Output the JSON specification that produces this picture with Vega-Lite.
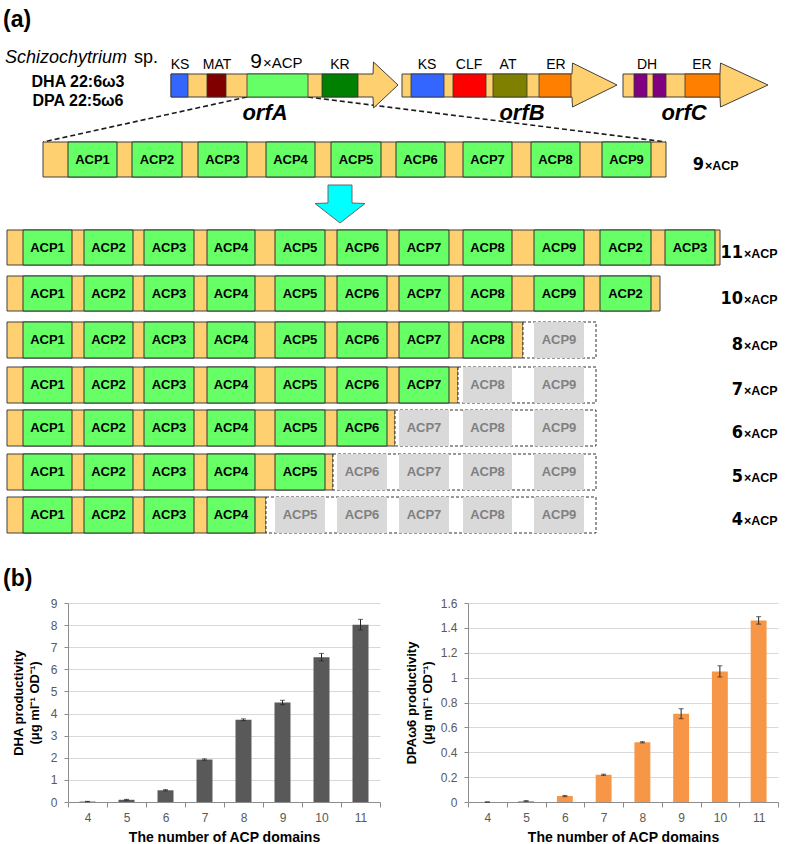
{
  "$schema": "https://vega.github.io/schema/vega-lite/v6.json",
  "padding": {"left": 3, "top": 0, "right": 0, "bottom": 0},
  "config": {"font": "Liberation Sans", "view": {"stroke": null}},
  "datasets": {
    "slots": [
      {"slot": "T1", "x": 68, "x2": 117, "xc": 92.5},
      {"slot": "T2", "x": 132, "x2": 182, "xc": 157},
      {"slot": "T3", "x": 198, "x2": 247, "xc": 222.5},
      {"slot": "T4", "x": 266, "x2": 315, "xc": 290.5},
      {"slot": "T5", "x": 331, "x2": 381, "xc": 356},
      {"slot": "T6", "x": 396, "x2": 445, "xc": 420.5},
      {"slot": "T7", "x": 463, "x2": 512, "xc": 487.5},
      {"slot": "T8", "x": 531, "x2": 580, "xc": 555.5},
      {"slot": "T9", "x": 602, "x2": 651, "xc": 626.5},
      {"slot": "1", "x": 23, "x2": 72, "xc": 47.5},
      {"slot": "2", "x": 84, "x2": 133, "xc": 108.5},
      {"slot": "3", "x": 144, "x2": 194, "xc": 169},
      {"slot": "4", "x": 207, "x2": 255, "xc": 231},
      {"slot": "5", "x": 275, "x2": 325, "xc": 300},
      {"slot": "6", "x": 337, "x2": 387, "xc": 362},
      {"slot": "7", "x": 399, "x2": 449, "xc": 424},
      {"slot": "8", "x": 463, "x2": 512, "xc": 487.5},
      {"slot": "9", "x": 534, "x2": 584, "xc": 559},
      {"slot": "10", "x": 600, "x2": 651, "xc": 625.5},
      {"slot": "11", "x": 665, "x2": 715, "xc": 690}
    ],
    "rows": [
      {"row": "9", "y": 142, "y2": 177, "yc": 159.5, "x": 43, "x2": 666, "lx": 704},
      {"row": "11", "y": 230, "y2": 265, "yc": 247.5, "x": 7, "x2": 720, "lx": 743},
      {"row": "10", "y": 276, "y2": 311, "yc": 293.5, "x": 7, "x2": 660, "lx": 743},
      {"row": "8", "y": 322, "y2": 358, "yc": 340, "x": 7, "x2": 523, "dash": 596, "lx": 743},
      {"row": "7", "y": 367, "y2": 403, "yc": 385, "x": 7, "x2": 458, "dash": 596, "lx": 743},
      {"row": "6", "y": 410, "y2": 446, "yc": 428, "x": 7, "x2": 395, "dash": 596, "lx": 743},
      {"row": "5", "y": 454, "y2": 490, "yc": 472, "x": 7, "x2": 333, "dash": 596, "lx": 743},
      {"row": "4", "y": 497, "y2": 533, "yc": 515, "x": 7, "x2": 266, "dash": 596, "lx": 743}
    ],
    "boxes": [
      {"row": "9", "slot": "T1", "t": "ACP1", "state": "on"},
      {"row": "9", "slot": "T2", "t": "ACP2", "state": "on"},
      {"row": "9", "slot": "T3", "t": "ACP3", "state": "on"},
      {"row": "9", "slot": "T4", "t": "ACP4", "state": "on"},
      {"row": "9", "slot": "T5", "t": "ACP5", "state": "on"},
      {"row": "9", "slot": "T6", "t": "ACP6", "state": "on"},
      {"row": "9", "slot": "T7", "t": "ACP7", "state": "on"},
      {"row": "9", "slot": "T8", "t": "ACP8", "state": "on"},
      {"row": "9", "slot": "T9", "t": "ACP9", "state": "on"},
      {"row": "11", "slot": "1", "t": "ACP1", "state": "on"},
      {"row": "11", "slot": "2", "t": "ACP2", "state": "on"},
      {"row": "11", "slot": "3", "t": "ACP3", "state": "on"},
      {"row": "11", "slot": "4", "t": "ACP4", "state": "on"},
      {"row": "11", "slot": "5", "t": "ACP5", "state": "on"},
      {"row": "11", "slot": "6", "t": "ACP6", "state": "on"},
      {"row": "11", "slot": "7", "t": "ACP7", "state": "on"},
      {"row": "11", "slot": "8", "t": "ACP8", "state": "on"},
      {"row": "11", "slot": "9", "t": "ACP9", "state": "on"},
      {"row": "11", "slot": "10", "t": "ACP2", "state": "on"},
      {"row": "11", "slot": "11", "t": "ACP3", "state": "on"},
      {"row": "10", "slot": "1", "t": "ACP1", "state": "on"},
      {"row": "10", "slot": "2", "t": "ACP2", "state": "on"},
      {"row": "10", "slot": "3", "t": "ACP3", "state": "on"},
      {"row": "10", "slot": "4", "t": "ACP4", "state": "on"},
      {"row": "10", "slot": "5", "t": "ACP5", "state": "on"},
      {"row": "10", "slot": "6", "t": "ACP6", "state": "on"},
      {"row": "10", "slot": "7", "t": "ACP7", "state": "on"},
      {"row": "10", "slot": "8", "t": "ACP8", "state": "on"},
      {"row": "10", "slot": "9", "t": "ACP9", "state": "on"},
      {"row": "10", "slot": "10", "t": "ACP2", "state": "on"},
      {"row": "8", "slot": "1", "t": "ACP1", "state": "on"},
      {"row": "8", "slot": "2", "t": "ACP2", "state": "on"},
      {"row": "8", "slot": "3", "t": "ACP3", "state": "on"},
      {"row": "8", "slot": "4", "t": "ACP4", "state": "on"},
      {"row": "8", "slot": "5", "t": "ACP5", "state": "on"},
      {"row": "8", "slot": "6", "t": "ACP6", "state": "on"},
      {"row": "8", "slot": "7", "t": "ACP7", "state": "on"},
      {"row": "8", "slot": "8", "t": "ACP8", "state": "on"},
      {"row": "8", "slot": "9", "t": "ACP9", "state": "off"},
      {"row": "7", "slot": "1", "t": "ACP1", "state": "on"},
      {"row": "7", "slot": "2", "t": "ACP2", "state": "on"},
      {"row": "7", "slot": "3", "t": "ACP3", "state": "on"},
      {"row": "7", "slot": "4", "t": "ACP4", "state": "on"},
      {"row": "7", "slot": "5", "t": "ACP5", "state": "on"},
      {"row": "7", "slot": "6", "t": "ACP6", "state": "on"},
      {"row": "7", "slot": "7", "t": "ACP7", "state": "on"},
      {"row": "7", "slot": "8", "t": "ACP8", "state": "off"},
      {"row": "7", "slot": "9", "t": "ACP9", "state": "off"},
      {"row": "6", "slot": "1", "t": "ACP1", "state": "on"},
      {"row": "6", "slot": "2", "t": "ACP2", "state": "on"},
      {"row": "6", "slot": "3", "t": "ACP3", "state": "on"},
      {"row": "6", "slot": "4", "t": "ACP4", "state": "on"},
      {"row": "6", "slot": "5", "t": "ACP5", "state": "on"},
      {"row": "6", "slot": "6", "t": "ACP6", "state": "on"},
      {"row": "6", "slot": "7", "t": "ACP7", "state": "off"},
      {"row": "6", "slot": "8", "t": "ACP8", "state": "off"},
      {"row": "6", "slot": "9", "t": "ACP9", "state": "off"},
      {"row": "5", "slot": "1", "t": "ACP1", "state": "on"},
      {"row": "5", "slot": "2", "t": "ACP2", "state": "on"},
      {"row": "5", "slot": "3", "t": "ACP3", "state": "on"},
      {"row": "5", "slot": "4", "t": "ACP4", "state": "on"},
      {"row": "5", "slot": "5", "t": "ACP5", "state": "on"},
      {"row": "5", "slot": "6", "t": "ACP6", "state": "off"},
      {"row": "5", "slot": "7", "t": "ACP7", "state": "off"},
      {"row": "5", "slot": "8", "t": "ACP8", "state": "off"},
      {"row": "5", "slot": "9", "t": "ACP9", "state": "off"},
      {"row": "4", "slot": "1", "t": "ACP1", "state": "on"},
      {"row": "4", "slot": "2", "t": "ACP2", "state": "on"},
      {"row": "4", "slot": "3", "t": "ACP3", "state": "on"},
      {"row": "4", "slot": "4", "t": "ACP4", "state": "on"},
      {"row": "4", "slot": "5", "t": "ACP5", "state": "off"},
      {"row": "4", "slot": "6", "t": "ACP6", "state": "off"},
      {"row": "4", "slot": "7", "t": "ACP7", "state": "off"},
      {"row": "4", "slot": "8", "t": "ACP8", "state": "off"},
      {"row": "4", "slot": "9", "t": "ACP9", "state": "off"}
    ],
    "genes": [
      {"gene": "orfA", "x": 171, "y": 74, "y2": 97},
      {"gene": "orfA", "x": 373, "y": 74, "y2": 97},
      {"gene": "orfA", "x": 373.5, "y": 62, "y2": 108},
      {"gene": "orfA", "x": 398, "y": 85, "y2": 85},
      {"gene": "orfB", "x": 402, "y": 74, "y2": 97},
      {"gene": "orfB", "x": 572, "y": 74, "y2": 97},
      {"gene": "orfB", "x": 572.5, "y": 63, "y2": 107},
      {"gene": "orfB", "x": 617, "y": 85, "y2": 85},
      {"gene": "orfC", "x": 623, "y": 74, "y2": 97},
      {"gene": "orfC", "x": 720, "y": 74, "y2": 97},
      {"gene": "orfC", "x": 720.5, "y": 63, "y2": 107},
      {"gene": "orfC", "x": 768, "y": 85, "y2": 85}
    ],
    "doms": [
      {"type": "KS", "x": 171, "x2": 188, "y": 74, "y2": 97},
      {"type": "MAT", "x": 207, "x2": 226, "y": 74, "y2": 97},
      {"type": "ACP", "x": 247, "x2": 308, "y": 74, "y2": 97},
      {"type": "KR", "x": 322, "x2": 358, "y": 74, "y2": 97},
      {"type": "KS", "x": 411, "x2": 444, "y": 74, "y2": 97},
      {"type": "CLF", "x": 453, "x2": 486, "y": 74, "y2": 97},
      {"type": "AT", "x": 493, "x2": 527, "y": 74, "y2": 97},
      {"type": "ER", "x": 539, "x2": 571, "y": 74, "y2": 97},
      {"type": "DH", "x": 634, "x2": 647, "y": 74, "y2": 97},
      {"type": "DH", "x": 653, "x2": 666, "y": 74, "y2": 97},
      {"type": "ER", "x": 685, "x2": 720, "y": 74, "y2": 97}
    ],
    "dha": [
      {"n": 4, "v": 0.02, "e": 0.01},
      {"n": 5, "v": 0.1, "e": 0.02},
      {"n": 6, "v": 0.53, "e": 0.03},
      {"n": 7, "v": 1.92, "e": 0.03},
      {"n": 8, "v": 3.72, "e": 0.04},
      {"n": 9, "v": 4.5, "e": 0.1},
      {"n": 10, "v": 6.55, "e": 0.17},
      {"n": 11, "v": 8.02, "e": 0.24}
    ],
    "dpa": [
      {"n": 4, "v": 0, "e": 0},
      {"n": 5, "v": 0.008, "e": 0.003},
      {"n": 6, "v": 0.048, "e": 0.005},
      {"n": 7, "v": 0.219, "e": 0.005},
      {"n": 8, "v": 0.48, "e": 0.005},
      {"n": 9, "v": 0.71, "e": 0.04},
      {"n": 10, "v": 1.05, "e": 0.045},
      {"n": 11, "v": 1.46, "e": 0.03}
    ]
  },
  "columns": 1,
  "align": "all",
  "spacing": 5,
  "concat": [
    {
      "width": 719,
      "height": 592,
      "layer": [
        {
          "data": {"values": [{"x": 247, "y": 97, "x2": 43, "y2": 142}, {"x": 308, "y": 97, "x2": 666, "y2": 142}]},
          "mark": {"type": "rule", "color": "#1a1a1a", "strokeWidth": 1.6, "strokeDash": [5, 3]},
          "encoding": {
            "x": {"field": "x", "type": "quantitative", "scale": {"domain": [68, 787], "nice": false, "zero": false}, "axis": null},
            "x2": {"field": "x2"},
            "y": {"field": "y", "type": "quantitative", "scale": {"domain": [0, 592], "reverse": true, "nice": false, "zero": false}, "axis": null},
            "y2": {"field": "y2"}
          }
        },
        {
          "data": {"name": "genes"},
          "mark": {"type": "area", "fill": "#FFD070", "stroke": "#404040", "strokeWidth": 1, "fillOpacity": 1},
          "encoding": {
            "x": {"field": "x", "type": "quantitative", "scale": {"domain": [68, 787], "nice": false, "zero": false}, "axis": null},
            "y": {"field": "y", "type": "quantitative", "scale": {"domain": [0, 592], "reverse": true, "nice": false, "zero": false}, "axis": null},
            "y2": {"field": "y2"},
            "detail": {"field": "gene"}
          }
        },
        {
          "data": {"name": "doms"},
          "mark": {"type": "rect", "stroke": "#333333", "strokeWidth": 0.8},
          "encoding": {
            "x": {"field": "x", "type": "quantitative", "scale": {"domain": [68, 787], "nice": false, "zero": false}, "axis": null},
            "x2": {"field": "x2"},
            "y": {"field": "y", "type": "quantitative", "scale": {"domain": [0, 592], "reverse": true, "nice": false, "zero": false}, "axis": null},
            "y2": {"field": "y2"},
            "fill": {"field": "type", "type": "nominal", "legend": null, "scale": {"domain": ["KS", "MAT", "ACP", "KR", "CLF", "AT", "ER", "DH"], "range": ["#3366FF", "#800000", "#66FF66", "#008000", "#FF0000", "#808000", "#FF8000", "#800080"]}}
          }
        },
        {
          "data": {"values": [{"t": "KS", "x": 180, "y": 65}, {"t": "MAT", "x": 217, "y": 65}, {"t": "KR", "x": 340, "y": 65}, {"t": "KS", "x": 427, "y": 65}, {"t": "CLF", "x": 469, "y": 65}, {"t": "AT", "x": 508, "y": 65}, {"t": "ER", "x": 556, "y": 65}, {"t": "DH", "x": 647, "y": 65}, {"t": "ER", "x": 702, "y": 65}]},
          "mark": {"type": "text", "fontSize": 14, "align": "center", "baseline": "middle", "color": "#000000"},
          "encoding": {
            "x": {"field": "x", "type": "quantitative", "scale": {"domain": [68, 787], "nice": false, "zero": false}, "axis": null},
            "y": {"field": "y", "type": "quantitative", "scale": {"domain": [0, 592], "reverse": true, "nice": false, "zero": false}, "axis": null},
            "text": {"field": "t"}
          }
        },
        {
          "data": {"values": [{"t": "9", "x": 262, "y": 68}]},
          "mark": {"type": "text", "fontSize": 21, "align": "right", "baseline": "alphabetic", "color": "#000000"},
          "encoding": {
            "x": {"field": "x", "type": "quantitative", "scale": {"domain": [68, 787], "nice": false, "zero": false}, "axis": null},
            "y": {"field": "y", "type": "quantitative", "scale": {"domain": [0, 592], "reverse": true, "nice": false, "zero": false}, "axis": null},
            "text": {"field": "t"}
          }
        },
        {
          "data": {"values": [{"t": "×ACP", "x": 263, "y": 68}]},
          "mark": {"type": "text", "fontSize": 15, "align": "left", "baseline": "alphabetic", "color": "#000000"},
          "encoding": {
            "x": {"field": "x", "type": "quantitative", "scale": {"domain": [68, 787], "nice": false, "zero": false}, "axis": null},
            "y": {"field": "y", "type": "quantitative", "scale": {"domain": [0, 592], "reverse": true, "nice": false, "zero": false}, "axis": null},
            "text": {"field": "t"}
          }
        },
        {
          "data": {"values": [{"t": "orfA", "x": 265, "y": 113}, {"t": "orfB", "x": 522, "y": 113}, {"t": "orfC", "x": 684, "y": 113}]},
          "mark": {"type": "text", "fontSize": 22, "fontWeight": "bold", "fontStyle": "italic", "align": "center", "baseline": "middle", "color": "#000000"},
          "encoding": {
            "x": {"field": "x", "type": "quantitative", "scale": {"domain": [68, 787], "nice": false, "zero": false}, "axis": null},
            "y": {"field": "y", "type": "quantitative", "scale": {"domain": [0, 592], "reverse": true, "nice": false, "zero": false}, "axis": null},
            "text": {"field": "t"}
          }
        },
        {
          "data": {"values": [{"t": "Schizochytrium", "x": 5, "y": 58}]},
          "mark": {"type": "text", "fontSize": 18, "fontStyle": "italic", "align": "left", "baseline": "middle", "color": "#000000"},
          "encoding": {
            "x": {"field": "x", "type": "quantitative", "scale": {"domain": [68, 787], "nice": false, "zero": false}, "axis": null},
            "y": {"field": "y", "type": "quantitative", "scale": {"domain": [0, 592], "reverse": true, "nice": false, "zero": false}, "axis": null},
            "text": {"field": "t"}
          }
        },
        {
          "data": {"values": [{"t": "sp.", "x": 134, "y": 58}]},
          "mark": {"type": "text", "fontSize": 18, "align": "left", "baseline": "middle", "color": "#000000"},
          "encoding": {
            "x": {"field": "x", "type": "quantitative", "scale": {"domain": [68, 787], "nice": false, "zero": false}, "axis": null},
            "y": {"field": "y", "type": "quantitative", "scale": {"domain": [0, 592], "reverse": true, "nice": false, "zero": false}, "axis": null},
            "text": {"field": "t"}
          }
        },
        {
          "data": {"values": [{"t": "DHA 22:6ω3", "x": 78, "y": 82}, {"t": "DPA 22:5ω6", "x": 78, "y": 101}]},
          "mark": {"type": "text", "fontSize": 16, "fontWeight": "bold", "align": "center", "baseline": "middle", "color": "#000000"},
          "encoding": {
            "x": {"field": "x", "type": "quantitative", "scale": {"domain": [68, 787], "nice": false, "zero": false}, "axis": null},
            "y": {"field": "y", "type": "quantitative", "scale": {"domain": [0, 592], "reverse": true, "nice": false, "zero": false}, "axis": null},
            "text": {"field": "t"}
          }
        },
        {
          "data": {"values": [{"t": "(a)", "x": 3, "y": 20}, {"t": "(b)", "x": 3, "y": 579}]},
          "mark": {"type": "text", "fontSize": 23, "fontWeight": "bold", "align": "left", "baseline": "middle", "color": "#000000"},
          "encoding": {
            "x": {"field": "x", "type": "quantitative", "scale": {"domain": [68, 787], "nice": false, "zero": false}, "axis": null},
            "y": {"field": "y", "type": "quantitative", "scale": {"domain": [0, 592], "reverse": true, "nice": false, "zero": false}, "axis": null},
            "text": {"field": "t"}
          }
        },
        {
          "data": {"values": [{"y": 185, "x": 328, "x2": 352}, {"y": 203, "x": 328, "x2": 352}, {"y": 203.5, "x": 315, "x2": 365}, {"y": 223, "x": 340, "x2": 340}]},
          "mark": {"type": "area", "orient": "horizontal", "fill": "#00FFFF", "stroke": "#666666", "strokeWidth": 1, "fillOpacity": 1},
          "encoding": {
            "y": {"field": "y", "type": "quantitative", "scale": {"domain": [0, 592], "reverse": true, "nice": false, "zero": false}, "axis": null},
            "x": {"field": "x", "type": "quantitative", "scale": {"domain": [68, 787], "nice": false, "zero": false}, "axis": null},
            "x2": {"field": "x2"}
          }
        },
        {
          "data": {"name": "rows"},
          "mark": {"type": "rect", "fill": "#FFD070", "stroke": "#404040", "strokeWidth": 1},
          "encoding": {
            "x": {"field": "x", "type": "quantitative", "scale": {"domain": [68, 787], "nice": false, "zero": false}, "axis": null},
            "x2": {"field": "x2"},
            "y": {"field": "y", "type": "quantitative", "scale": {"domain": [0, 592], "reverse": true, "nice": false, "zero": false}, "axis": null},
            "y2": {"field": "y2"}
          }
        },
        {
          "data": {"name": "rows"},
          "transform": [{"filter": "isValid(datum.dash)"}],
          "mark": {"type": "rect", "fill": "#FFFFFF", "stroke": "#333333", "strokeWidth": 1, "strokeDash": [3, 2]},
          "encoding": {
            "x": {"field": "x2", "type": "quantitative", "scale": {"domain": [68, 787], "nice": false, "zero": false}, "axis": null},
            "x2": {"field": "dash"},
            "y": {"field": "y", "type": "quantitative", "scale": {"domain": [0, 592], "reverse": true, "nice": false, "zero": false}, "axis": null},
            "y2": {"field": "y2"}
          }
        },
        {
          "data": {"name": "boxes"},
          "transform": [
            {"lookup": "slot", "from": {"data": {"name": "slots"}, "key": "slot", "fields": ["x", "x2", "xc"]}},
            {"lookup": "row", "from": {"data": {"name": "rows"}, "key": "row", "fields": ["y", "y2", "yc"]}},
            {"filter": "datum.state == 'on'"}
          ],
          "mark": {"type": "rect", "fill": "#66FF66", "stroke": "#333333", "strokeWidth": 1},
          "encoding": {
            "x": {"field": "x", "type": "quantitative", "scale": {"domain": [68, 787], "nice": false, "zero": false}, "axis": null},
            "x2": {"field": "x2"},
            "y": {"field": "y", "type": "quantitative", "scale": {"domain": [0, 592], "reverse": true, "nice": false, "zero": false}, "axis": null},
            "y2": {"field": "y2"}
          }
        },
        {
          "data": {"name": "boxes"},
          "transform": [
            {"lookup": "slot", "from": {"data": {"name": "slots"}, "key": "slot", "fields": ["x", "x2", "xc"]}},
            {"lookup": "row", "from": {"data": {"name": "rows"}, "key": "row", "fields": ["y", "y2", "yc"]}},
            {"filter": "datum.state == 'off'"}
          ],
          "mark": {"type": "rect", "fill": "#D9D9D9"},
          "encoding": {
            "x": {"field": "x", "type": "quantitative", "scale": {"domain": [68, 787], "nice": false, "zero": false}, "axis": null},
            "x2": {"field": "x2"},
            "y": {"field": "y", "type": "quantitative", "scale": {"domain": [0, 592], "reverse": true, "nice": false, "zero": false}, "axis": null},
            "y2": {"field": "y2"}
          }
        },
        {
          "data": {"name": "boxes"},
          "transform": [
            {"lookup": "slot", "from": {"data": {"name": "slots"}, "key": "slot", "fields": ["x", "x2", "xc"]}},
            {"lookup": "row", "from": {"data": {"name": "rows"}, "key": "row", "fields": ["y", "y2", "yc"]}}
          ],
          "mark": {"type": "text", "fontSize": 13, "fontWeight": "bold", "align": "center", "baseline": "middle"},
          "encoding": {
            "x": {"field": "xc", "type": "quantitative", "scale": {"domain": [68, 787], "nice": false, "zero": false}, "axis": null},
            "y": {"field": "yc", "type": "quantitative", "scale": {"domain": [0, 592], "reverse": true, "nice": false, "zero": false}, "axis": null},
            "text": {"field": "t"},
            "color": {"condition": {"test": "datum.state == 'on'", "value": "#000000"}, "value": "#808080"}
          }
        },
        {
          "data": {"name": "rows"},
          "mark": {"type": "text", "font": "Liberation Sans Narrow, Arial Narrow, DejaVu Sans Condensed, Liberation Sans", "fontSize": 18, "fontWeight": "bold", "align": "right", "baseline": "alphabetic", "dy": 10, "color": "#000000"},
          "encoding": {
            "x": {"field": "lx", "type": "quantitative", "scale": {"domain": [68, 787], "nice": false, "zero": false}, "axis": null},
            "y": {"field": "yc", "type": "quantitative", "scale": {"domain": [0, 592], "reverse": true, "nice": false, "zero": false}, "axis": null},
            "text": {"field": "row"}
          }
        },
        {
          "data": {"name": "rows"},
          "mark": {"type": "text", "fontSize": 12.5, "fontWeight": "bold", "align": "left", "baseline": "alphabetic", "dy": 10, "dx": 1, "color": "#000000"},
          "encoding": {
            "x": {"field": "lx", "type": "quantitative", "scale": {"domain": [68, 787], "nice": false, "zero": false}, "axis": null},
            "y": {"field": "yc", "type": "quantitative", "scale": {"domain": [0, 592], "reverse": true, "nice": false, "zero": false}, "axis": null},
            "text": {"value": "×ACP"}
          }
        }
      ]
    },
    {
      "hconcat": [
        {
          "width": 312,
          "height": 199,
          "data": {"name": "dha"},
          "encoding": {
            "x": {"field": "n", "type": "ordinal", "scale": {"domain": [4, 5, 6, 7, 8, 9, 10, 11], "paddingInner": 0, "paddingOuter": 0},
              "axis": {"title": "The number of ACP domains", "labelAngle": 0, "tickBand": "extent", "domainColor": "#8C8C8C", "tickColor": "#8C8C8C", "tickSize": 5, "labelPadding": 5, "labelFontSize": 12, "labelColor": "#595959", "titleFontSize": 14, "titleFontWeight": "bold", "titleColor": "#000000", "titlePadding": 7}},
            "y": {"field": "v", "type": "quantitative", "scale": {"domain": [0, 9]},
              "axis": {"title": ["DHA productivity", "(μg ml⁻¹ OD⁻¹)"], "values": [0, 1, 2, 3, 4, 5, 6, 7, 8, 9], "grid": true, "gridColor": "#D9D9D9", "domainColor": "#8C8C8C", "tickColor": "#8C8C8C", "tickSize": 4, "labelPadding": 7, "labelFontSize": 12, "labelColor": "#595959", "titleFontSize": 13, "titleFontWeight": "bold", "titleColor": "#000000", "titleLineHeight": 16, "titlePadding": 9}}
          },
          "layer": [
            {"mark": {"type": "bar", "width": {"band": 0.41}, "color": "#595959"}},
            {"mark": {"type": "errorbar", "ticks": {"size": 5}, "color": "#262626", "thickness": 1}, "encoding": {"yError": {"field": "e"}}}
          ]
        },
        {
          "width": 310,
          "height": 199,
          "data": {"name": "dpa"},
          "encoding": {
            "x": {"field": "n", "type": "ordinal", "scale": {"domain": [4, 5, 6, 7, 8, 9, 10, 11], "paddingInner": 0, "paddingOuter": 0},
              "axis": {"title": "The number of ACP domains", "labelAngle": 0, "tickBand": "extent", "domainColor": "#8C8C8C", "tickColor": "#8C8C8C", "tickSize": 5, "labelPadding": 5, "labelFontSize": 12, "labelColor": "#595959", "titleFontSize": 14, "titleFontWeight": "bold", "titleColor": "#000000", "titlePadding": 7}},
            "y": {"field": "v", "type": "quantitative", "scale": {"domain": [0, 1.6]},
              "axis": {"title": ["DPAω6 productivity", "(μg ml⁻¹ OD⁻¹)"], "values": [0, 0.2, 0.4, 0.6, 0.8, 1, 1.2, 1.4, 1.6], "format": "~g", "grid": true, "gridColor": "#D9D9D9", "domainColor": "#8C8C8C", "tickColor": "#8C8C8C", "tickSize": 4, "labelPadding": 7, "labelFontSize": 12, "labelColor": "#595959", "titleFontSize": 13, "titleFontWeight": "bold", "titleColor": "#000000", "titleLineHeight": 16, "titlePadding": 6}}
          },
          "layer": [
            {"mark": {"type": "bar", "width": {"band": 0.41}, "color": "#F79646"}},
            {"mark": {"type": "errorbar", "ticks": {"size": 5}, "color": "#262626", "thickness": 1}, "encoding": {"yError": {"field": "e"}}}
          ]
        }
      ],
      "spacing": 24
    }
  ]
}
